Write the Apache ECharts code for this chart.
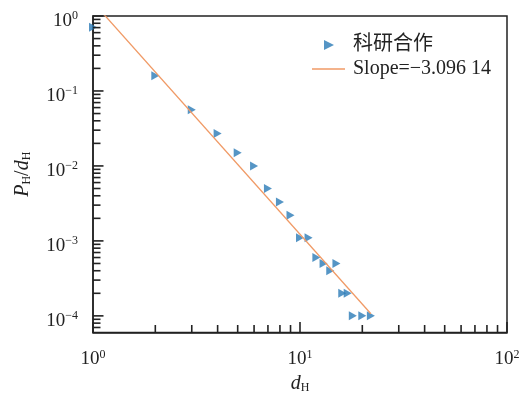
<!DOCTYPE html>
<html>
<head>
<meta charset="utf-8">
<script src="https://cdn.jsdelivr.net/npm/echarts@6/dist/echarts.min.js"></script>
<style>
  html, body { margin: 0; padding: 0; background: #fff; }
  #chart { width: 528px; height: 398px; }
</style>
</head>
<body>
<div id="chart"></div>
<script>
// Degree distribution of the collaboration network, log-log
const degrees = [1, 2, 3, 4, 5, 6, 7, 8, 9, 10, 11, 12, 13, 14, 15, 16, 17, 18, 20, 22];
const probs = [0.71, 0.16, 0.056, 0.027, 0.015, 0.01, 0.005, 0.0033, 0.0022, 0.0011,
               0.0011, 0.0006, 0.0005, 0.0004, 0.0005, 0.0002, 0.0002, 0.0001, 0.0001, 0.0001];

// Power-law fit: P = C * d^slope
const slope = -3.09614;
const fitCoef = 1.53;
const fitRange = [1, 22];

// Axis ranges, major (decade) and minor tick positions
const xRange = [1, 100];
const yRange = [6e-5, 1];
const xMajorTicks = [1, 10, 100];
const yMajorTicks = [1e-4, 1e-3, 1e-2, 0.1, 1];
const xMinorTicks = [2, 3, 4, 5, 6, 7, 8, 9, 20, 30, 40, 50, 60, 70, 80, 90];
const yMinorTicks = [7e-5, 8e-5, 9e-5,
  2e-4, 3e-4, 4e-4, 5e-4, 6e-4, 7e-4, 8e-4, 9e-4,
  2e-3, 3e-3, 4e-3, 5e-3, 6e-3, 7e-3, 8e-3, 9e-3,
  0.02, 0.03, 0.04, 0.05, 0.06, 0.07, 0.08, 0.09,
  0.2, 0.3, 0.4, 0.5, 0.6, 0.7, 0.8, 0.9];

const seriesName = '科研合作';
const absS = Math.abs(slope).toFixed(5);
const fitName = 'Slope=' + (slope < 0 ? '\u2212' : '') + absS.slice(0, 5) + ' ' + absS.slice(5);

const SERIF = "'Liberation Serif', 'Times New Roman', 'Noto Sans CJK SC', serif";
const INK = '#222';
const BLUE = '#2a7ab6';
const ORANGE = '#f09a66';

function powLabel(v) {
  const e = Math.log10(v);
  const r = Math.round(e);
  if (Math.abs(e - r) > 1e-6) return '';
  return '{b|10}{s|' + String(r).replace('-', '\u2212') + '}';
}
const powRich = {
  b: { fontFamily: SERIF, fontSize: 19, color: INK, lineHeight: 22 },
  s: { fontFamily: SERIF, fontSize: 12, color: INK, verticalAlign: 'top', lineHeight: 14 }
};

const fitData = fitRange.map(x => [x, fitCoef * Math.pow(x, slope)]);

const chart = echarts.init(document.getElementById('chart'), null, { renderer: 'canvas' });
chart.setOption({
  animation: false,
  backgroundColor: '#fff',
  grid: {
    left: 93, right: 21, top: 16, bottom: 65.5,
    show: true, borderColor: INK, borderWidth: 1.5,
    outerBoundsMode: 'none'
  },
  legend: [
    {
      data: [{ name: seriesName, icon: 'path://M0,0L10,5L0,10Z' }],
      left: 324, top: 35, padding: 0,
      itemWidth: 10, itemHeight: 11,
      symbolRotate: 0,
      textStyle: { fontFamily: SERIF, fontSize: 20, color: INK, padding: [0, 0, 0, 14] }
    },
    {
      data: [{ name: fitName, icon: 'path://M0,0H33V1.3H0Z' }],
      left: 312, top: 59, padding: 0,
      itemWidth: 33, itemHeight: 1.3,
      textStyle: { fontFamily: SERIF, fontSize: 20, color: INK, padding: [0, 0, 0, 3] }
    }
  ],
  xAxis: {
    type: 'log', logBase: 10, min: xRange[0], max: xRange[1],
    name: '{i|d}{s|H}', nameLocation: 'middle', nameGap: 31,
    nameTextStyle: {
      rich: {
        i: { fontFamily: SERIF, fontStyle: 'italic', fontSize: 20, color: INK },
        s: { fontFamily: SERIF, fontSize: 12, color: INK, verticalAlign: 'bottom' }
      }
    },
    axisLine: { lineStyle: { color: INK, width: 1.5 } },
    axisTick: { show: false },
    axisLabel: { margin: 16, formatter: powLabel, rich: powRich },
    splitLine: { show: false }
  },
  yAxis: {
    type: 'log', logBase: 10, min: yRange[0], max: yRange[1],
    name: '{i|P}{s|H}{n|/}{i|d}{s|H}', nameLocation: 'middle', nameGap: 60, nameRotate: 90,
    nameTextStyle: {
      rich: {
        i: { fontFamily: SERIF, fontStyle: 'italic', fontSize: 20, color: INK },
        n: { fontFamily: SERIF, fontSize: 20, color: INK },
        s: { fontFamily: SERIF, fontSize: 12, color: INK, verticalAlign: 'bottom' }
      }
    },
    axisLine: { lineStyle: { color: INK, width: 1.5 } },
    axisTick: { show: false },
    axisLabel: { margin: 15, padding: [10, 0, 0, 0], formatter: powLabel, rich: powRich },
    splitLine: { show: false }
  },
  series: [
    {
      name: seriesName,
      type: 'scatter',
      data: degrees.map((d, i) => [d, probs[i]]),
      symbol: 'triangle',
      symbolRotate: -90,
      symbolSize: [9, 8],
      itemStyle: { color: BLUE },
      z: 3
    },
    {
      name: fitName,
      type: 'line',
      data: fitData,
      showSymbol: false,
      symbol: 'none',
      clip: true,
      lineStyle: { color: ORANGE, width: 1.3 },
      itemStyle: { color: ORANGE },
      z: 4
    }
  ]
});

// Inward ticks on the left and bottom axes, placed with the chart's own axis scales
const tickMarks = [];
function xTick(v, len) {
  const p = chart.convertToPixel({ gridIndex: 0 }, [v, yRange[0]]);
  tickMarks.push({
    type: 'line', silent: true, z: 10,
    shape: { x1: p[0], y1: p[1], x2: p[0], y2: p[1] - len },
    style: { stroke: '#222', lineWidth: 1.6 }
  });
}
function yTick(v, len) {
  const p = chart.convertToPixel({ gridIndex: 0 }, [xRange[0], v]);
  tickMarks.push({
    type: 'line', silent: true, z: 10,
    shape: { x1: p[0], y1: p[1], x2: p[0] + len, y2: p[1] },
    style: { stroke: '#222', lineWidth: 1.6 }
  });
}
xMajorTicks.forEach(v => xTick(v, 10.5));
xMinorTicks.forEach(v => xTick(v, 7.5));
yMajorTicks.forEach(v => yTick(v, 10.5));
yMinorTicks.forEach(v => yTick(v, 7.5));
chart.setOption({ graphic: tickMarks });
</script>
</body>
</html>
